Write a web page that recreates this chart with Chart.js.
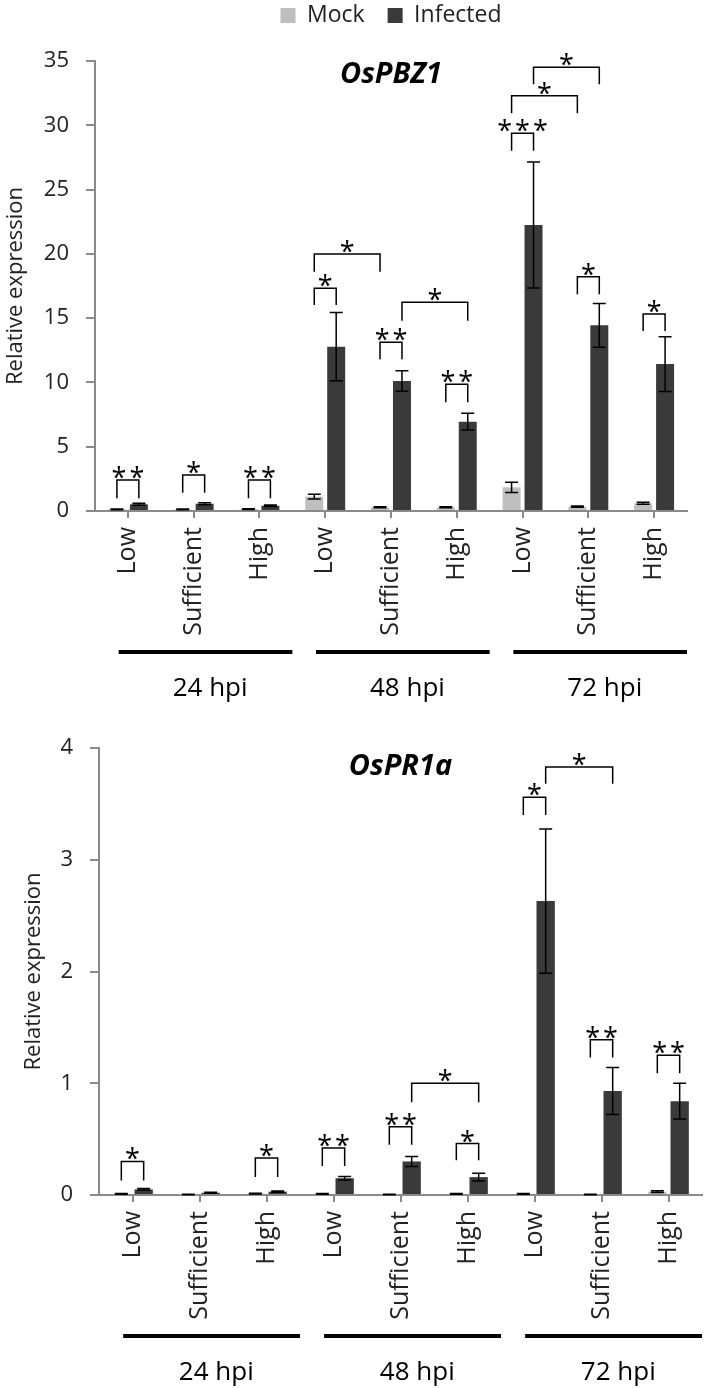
<!DOCTYPE html>
<html>
<head>
<meta charset="utf-8">
<script src="https://cdn.jsdelivr.net/npm/chart.js@4.4.1/dist/chart.umd.min.js"></script>
<style>
  html, body { margin: 0; padding: 0; background: #fff; }
  canvas { display: block; }
</style>
</head>
<body>
<canvas id="pbz1Chart" width="709" height="715"></canvas>
<canvas id="pr1aChart" width="709" height="673"></canvas>
<script>
const categories = ["Low", "Sufficient", "High", "Low", "Sufficient", "High", "Low", "Sufficient", "High"];
const timeGroups = ["24 hpi", "48 hpi", "72 hpi"];
const seriesNames = ["Mock", "Infected"];

// OsPBZ1
const pbz1Mock = [0.13, 0.12, 0.15, 1.12, 0.29, 0.29, 1.84, 0.34, 0.60];
const pbz1MockErr = [0.03, 0.03, 0.03, 0.18, 0.04, 0.04, 0.40, 0.04, 0.08];
const pbz1Infected = [0.52, 0.57, 0.41, 12.78, 10.11, 6.95, 22.24, 14.44, 11.43];
const pbz1InfectedErr = [0.08, 0.08, 0.06, 2.65, 0.80, 0.65, 4.90, 1.70, 2.13];
// [fromCategory, fromSeries, toCategory, toSeries, bracket top, leg bottom, label]
const pbz1Brackets = [
    [0, 0, 0, 1, 2.41, 0.99, "**"],
    [1, 0, 1, 1, 2.80, 1.42, "*"],
    [2, 0, 2, 1, 2.41, 0.99, "**"],
    [3, 0, 3, 1, 17.32, 16.02, "*"],
    [3, 0, 4, 0, 19.99, 18.61, "*"],
    [4, 0, 4, 1, 13.12, 11.80, "**"],
    [4, 1, 5, 1, 16.23, 14.80, "*"],
    [5, 0, 5, 1, 9.85, 8.45, "**"],
    [6, 0, 6, 1, 29.38, 28.02, "***"],
    [6, 0, 7, 0, 32.30, 30.93, "*"],
    [6, 1, 7, 1, 34.51, 33.19, "*"],
    [7, 0, 7, 1, 18.22, 16.85, "*"],
    [8, 0, 8, 1, 15.32, 14.00, "*"]
];

// OsPR1a
const pr1aMock = [0.010, 0.005, 0.012, 0.010, 0.005, 0.010, 0.010, 0.005, 0.030];
const pr1aMockErr = [0.003, 0.002, 0.003, 0.003, 0.002, 0.003, 0.003, 0.002, 0.008];
const pr1aInfected = [0.05, 0.02, 0.03, 0.15, 0.30, 0.16, 2.63, 0.93, 0.84];
const pr1aInfectedErr = [0.008, 0.005, 0.006, 0.015, 0.045, 0.035, 0.645, 0.21, 0.16];
const pr1aBrackets = [
    [0, 0, 0, 1, 0.30, 0.13, "*"],
    [2, 0, 2, 1, 0.33, 0.16, "*"],
    [3, 0, 3, 1, 0.42, 0.26, "**"],
    [4, 0, 4, 1, 0.61, 0.45, "**"],
    [5, 0, 5, 1, 0.46, 0.31, "*"],
    [4, 1, 5, 1, 1.00, 0.83, "*"],
    [6, 0, 6, 1, 3.56, 3.40, "*"],
    [6, 1, 7, 1, 3.83, 3.68, "*"],
    [7, 0, 7, 1, 1.39, 1.23, "**"],
    [8, 0, 8, 1, 1.25, 1.09, "**"]
];

const FONT = '"Open Sans", sans-serif';
const AXIS_COLOR = "#8a8a8a";
const TEXT_COLOR = "#222";
const MOCK_COLOR = "#bfbfbf";
const INFECTED_COLOR = "#3a3a3a";

function marksPlugin(cfg) {
    return {
        id: "marks",
        afterDatasetsDraw(chart) {
            const ctx = chart.ctx;
            const ys = chart.scales.y;
            ctx.save();

            // error bars
            ctx.strokeStyle = "#000";
            ctx.lineWidth = 1.5;
            cfg.errors.forEach((errs, ds) => {
                const values = chart.data.datasets[ds].data;
                chart.getDatasetMeta(ds).data.forEach((bar, i) => {
                    const top = ys.getPixelForValue(values[i] + errs[i]);
                    const bot = ys.getPixelForValue(Math.max(values[i] - errs[i], 0));
                    ctx.beginPath();
                    ctx.moveTo(bar.x, top);
                    ctx.lineTo(bar.x, bot);
                    ctx.moveTo(bar.x - 6.5, top);
                    ctx.lineTo(bar.x + 6.5, top);
                    ctx.moveTo(bar.x - 6.5, bot);
                    ctx.lineTo(bar.x + 6.5, bot);
                    ctx.stroke();
                });
            });

            // significance brackets
            ctx.fillStyle = "#000";
            ctx.font = `27px ${FONT}`;
            ctx.letterSpacing = "3px";
            ctx.textAlign = "center";
            ctx.textBaseline = "alphabetic";
            cfg.brackets.forEach(([c1, s1, c2, s2, top, leg, label]) => {
                const x1 = chart.getDatasetMeta(s1).data[c1].x;
                const x2 = chart.getDatasetMeta(s2).data[c2].x;
                const yTop = ys.getPixelForValue(top);
                const yLeg = ys.getPixelForValue(leg);
                ctx.beginPath();
                ctx.moveTo(x1, yLeg);
                ctx.lineTo(x1, yTop);
                ctx.lineTo(x2, yTop);
                ctx.lineTo(x2, yLeg);
                ctx.stroke();
                ctx.fillText(label, (x1 + x2) / 2 + 1.5, yTop + 7);
            });
            ctx.restore();
        },
        afterDraw(chart) {
            const ctx = chart.ctx;
            const xs = chart.scales.x;
            const area = chart.chartArea;
            const cw = xs.getPixelForValue(1) - xs.getPixelForValue(0);
            ctx.save();

            // time point groups under the category labels
            ctx.strokeStyle = "#000";
            ctx.fillStyle = "#000";
            ctx.lineWidth = 4;
            ctx.font = `26px ${FONT}`;
            ctx.textAlign = "center";
            ctx.textBaseline = "alphabetic";
            timeGroups.forEach((g, k) => {
                const first = xs.getPixelForValue(k * 3);
                const mid = xs.getPixelForValue(k * 3 + 1);
                const last = xs.getPixelForValue(k * 3 + 2);
                const ly = area.bottom + 141;
                ctx.beginPath();
                ctx.moveTo(first - 0.14 * cw, ly);
                ctx.lineTo(last + 0.5 * cw, ly);
                ctx.stroke();
                ctx.fillText(g, mid + 0.25 * cw, area.bottom + 185);
            });

            // gene name
            ctx.font = `italic bold 29px ${FONT}`;
            ctx.fillText(cfg.gene, (area.left + area.right) / 2, area.top + cfg.geneOffset);
            ctx.restore();
        }
    };
}

function buildChart(canvasId, cfg) {
    const ctx = document.getElementById(canvasId).getContext("2d");
    return new Chart(ctx, {
        type: "bar",
        data: {
            labels: categories,
            datasets: [
                { label: seriesNames[0], data: cfg.mock, backgroundColor: MOCK_COLOR, borderWidth: 0 },
                { label: seriesNames[1], data: cfg.infected, backgroundColor: INFECTED_COLOR, borderWidth: 0 }
            ]
        },
        options: {
            responsive: false,
            animation: false,
            devicePixelRatio: 1,
            events: [],
            layout: { padding: cfg.padding },
            datasets: {
                bar: { categoryPercentage: 0.667, barPercentage: 0.82 }
            },
            plugins: {
                tooltip: { enabled: false },
                legend: {
                    display: cfg.legend,
                    position: "top",
                    fullSize: false,
                    labels: {
                        boxWidth: 15,
                        boxHeight: 15,
                        padding: 23,
                        color: TEXT_COLOR,
                        font: { family: FONT, size: 23 }
                    }
                },
                // empty title used as a spacer between legend and plot
                title: {
                    display: cfg.legend,
                    text: "",
                    weight: 100,
                    padding: 0,
                    font: { size: 20, lineHeight: 1.2 }
                }
            },
            scales: {
                x: {
                    grid: {
                        display: true,
                        drawOnChartArea: false,
                        offset: false,
                        tickLength: 7,
                        color: AXIS_COLOR,
                        lineWidth: 2
                    },
                    border: { color: AXIS_COLOR, width: 2 },
                    ticks: {
                        minRotation: 90,
                        maxRotation: 90,
                        autoSkip: false,
                        padding: 9,
                        color: TEXT_COLOR,
                        font: { family: FONT, size: 25 }
                    },
                    afterFit: s => { s.height = cfg.xHeight; }
                },
                y: {
                    min: 0,
                    max: cfg.yMax,
                    ticks: {
                        stepSize: cfg.yStep,
                        padding: 17,
                        color: TEXT_COLOR,
                        font: { family: FONT, size: 22 }
                    },
                    grid: {
                        drawOnChartArea: false,
                        tickLength: 9,
                        color: AXIS_COLOR,
                        lineWidth: 2
                    },
                    border: { color: AXIS_COLOR, width: 2 },
                    title: {
                        display: true,
                        text: "Relative expression",
                        color: TEXT_COLOR,
                        font: { family: FONT, size: 22 },
                        padding: { top: cfg.titlePad, bottom: 0 }
                    },
                    afterFit: s => { s.width = cfg.yWidth; }
                }
            }
        },
        plugins: [marksPlugin(cfg)]
    });
}

window.addEventListener("DOMContentLoaded", () => {
    buildChart("pbz1Chart", {
        mock: pbz1Mock,
        infected: pbz1Infected,
        errors: [pbz1MockErr, pbz1InfectedErr],
        brackets: pbz1Brackets,
        gene: "OsPBZ1",
        geneOffset: 22,
        legend: true,
        padding: { top: -19, right: 22, bottom: 0, left: 0 },
        xHeight: 204,
        yWidth: 95,
        yMax: 35,
        yStep: 5,
        titlePad: 3
    });
    buildChart("pr1aChart", {
        mock: pr1aMock,
        infected: pr1aInfected,
        errors: [pr1aMockErr, pr1aInfectedErr],
        brackets: pr1aBrackets,
        gene: "OsPR1a",
        geneOffset: 27,
        legend: false,
        padding: { top: 33, right: 7, bottom: 0, left: 0 },
        xHeight: 193,
        yWidth: 99,
        yMax: 4,
        yStep: 1,
        titlePad: 21
    });
});
</script>
</body>
</html>
